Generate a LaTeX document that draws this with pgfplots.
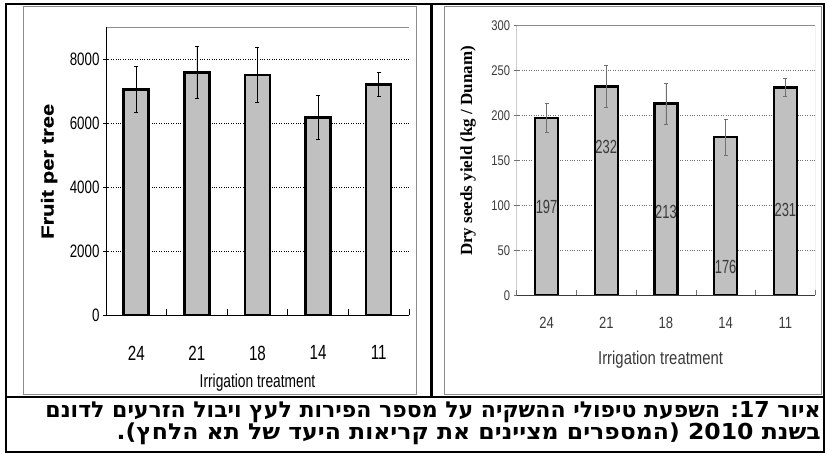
\documentclass[border=0pt]{standalone}
\usepackage{fontspec}
\usepackage{pgfplots}
\usepackage{pgfplotstable}
\pgfplotsset{compat=1.18}
\setmainfont{Liberation Sans}
\newfontfamily\narrowL[FakeStretch=0.74]{Liberation Sans}
\newfontfamily\narrowR[FakeStretch=0.80]{Liberation Sans}
\newfontfamily\labelfont[FakeStretch=0.68]{Liberation Sans}
\newfontface\heavy[FakeStretch=1.25,FakeBold=1]{Liberation Sans Bold}
\newfontfamily\timesb{Liberation Serif}
\newfontfamily\hebfont[Script=Hebrew]{DejaVu Sans}
\newfontfamily\hebwide[Script=Hebrew,FakeStretch=1.07]{DejaVu Sans}
\TeXXeTstate=1

\definecolor{barfill}{HTML}{C0C0C0}
\definecolor{framegray}{HTML}{8C8C8C}
\definecolor{darkgray}{HTML}{3A3A3A}
\definecolor{gridgray}{HTML}{707070}

% Fruit per tree: mean and standard error
\pgfplotstableread{
x y err
0 7060 710
1 7580 810
2 7510 860
3 6190 680
4 7220 365
}\fruit

% Dry seeds yield (kg/dunam): mean and standard error
\pgfplotstableread{
x y err
0 197 16
1 232 23
2 213 23
3 176 20
4 231 10
}\yield

% Data label positions inside the bars
\pgfplotstableread{
x y lab
0 98.5 197
1 165 232
2 93 213
3 32 176
4 95 231
}\yieldlabels

\begin{document}
\begin{tikzpicture}[x=1pt,y=1pt]
\useasboundingbox (0,0) rectangle (825,453);

% table borders
\draw[black, line width=2pt] (6,449) rectangle (824,1);
\draw[black, line width=2pt] (6,56) -- (824,56);
\draw[black, line width=2.5pt] (431.5,449) -- (431.5,56);
% chart frames
\draw[framegray, line width=0.8pt] (23,447) rectangle (416,59);
\draw[framegray, line width=0.8pt] (444,447) rectangle (821,59);

% ---------------- left chart: fruit per tree ----------------
\begin{axis}[
  at={(106pt,137.7pt)}, anchor=south west,
  scale only axis, width=303pt, height=288pt,
  xmin=-0.5, xmax=4.5, ymin=0, ymax=9000,
  xtick={0,...,4}, xticklabels={24,21,18,14,11},
  minor xtick={-0.5,0.5,...,4.5},
  ytick={0,2000,...,8000}, yticklabels={0,2000,4000,6000,8000},
  tick pos=left,
  major x tick style={draw=none},
  minor x tick style={black, line width=0.6pt},
  minor tick length=6pt,
  ytick align=center, major tick length=6pt,
  y tick style={black, line width=0.6pt},
  axis line style={draw=none},
  ymajorgrids, major grid style={black, dotted, line width=0.7pt},
  xticklabel style={font=\narrowL\fontsize{20.5}{20.5}\selectfont, text=black, yshift=-27pt},
  yticklabel style={font=\narrowL\fontsize{18}{18}\selectfont, text=black},
  xlabel={Irrigation treatment},
  xlabel style={at={(axis description cs:0.5,-0.252)}, anchor=base,
    font=\narrowL\fontsize{18.6}{18.6}\selectfont},
  ylabel={Fruit per tree},
  ylabel style={at={(axis description cs:-0.188,0.5)}, anchor=center,
    font=\heavy\fontsize{17.5}{17.5}\selectfont},
]
\addplot[ybar, bar width=25pt, fill=barfill, draw=black, line width=2.6pt,
  error bars/.cd, y dir=both, y explicit,
  error bar style={black, line width=0.7pt},
  error mark options={black, line width=0.7pt, rotate=90, mark size=2pt}]
  table[x=x, y=y, y error=err] {\fruit};
\draw[framegray, line width=0.8pt] (rel axis cs:0,1) -- (rel axis cs:1,1) -- (rel axis cs:1,0);
\draw[black, line width=0.9pt] (rel axis cs:0,1) -- (rel axis cs:0,0) -- (rel axis cs:1,0);
\end{axis}

% ---------------- right chart: dry seeds yield ----------------
\begin{axis}[
  at={(516.7pt,157.7pt)}, anchor=south west,
  scale only axis, width=298.5pt, height=270pt,
  xmin=-0.5, xmax=4.5, ymin=0, ymax=300,
  xtick={0,...,4}, xticklabels={24,21,18,14,11},
  minor xtick={-0.5,0.5,...,4.5},
  ytick={0,50,...,300}, yticklabels={0,50,100,150,200,250,300},
  tick pos=left,
  major x tick style={draw=none},
  minor x tick style={gridgray, line width=0.6pt},
  minor tick length=5pt,
  ytick align=center, major tick length=6pt,
  y tick style={gridgray, line width=0.6pt},
  axis line style={draw=none},
  ymajorgrids, major grid style={gridgray, dotted, line width=0.7pt},
  xticklabel style={font=\narrowR\fontsize{16.3}{16.3}\selectfont, text=darkgray, yshift=-18pt},
  yticklabel style={font=\narrowR\fontsize{14}{14}\selectfont, text=darkgray},
  xlabel={Irrigation treatment},
  xlabel style={at={(axis description cs:0.482,-0.258)}, anchor=base,
    font=\narrowR\fontsize{18.6}{18.6}\selectfont, text=darkgray},
  ylabel={Dry seeds yield (kg / Dunam)},
  ylabel style={at={(axis description cs:-0.163,0.535)}, anchor=center,
    font=\timesb\bfseries\fontsize{17}{17}\selectfont},
]
\addplot[ybar, bar width=23pt, fill=barfill, draw=black, line width=2.4pt,
  error bars/.cd, y dir=both, y explicit,
  error bar style={gridgray, line width=0.7pt},
  error mark options={gridgray, line width=0.7pt, rotate=90, mark size=2pt}]
  table[x=x, y=y, y error=err] {\yield};
\addplot[draw=none, mark=none, nodes near coords, point meta=explicit symbolic,
  every node near coord/.append style={anchor=center, inner sep=0pt,
    font=\labelfont\fontsize{19}{19}\selectfont, text=darkgray}]
  table[x=x, y=y, meta=lab] {\yieldlabels};
\draw[framegray, line width=0.8pt] (rel axis cs:0,1) -- (rel axis cs:1,1) -- (rel axis cs:1,0);
\draw[gridgray, line width=0.8pt] (rel axis cs:0,1) -- (rel axis cs:0,0);
\draw[darkgray, line width=0.8pt] (rel axis cs:0,0) -- (rel axis cs:1,0);
\end{axis}

% caption
\node[anchor=base east, inner sep=0pt, font=\hebfont\bfseries\fontsize{22}{24}\selectfont]
  at (821,36) {\beginR איור 17: השפעת טיפולי ההשקיה על מספר הפירות לעץ ויבול הזרעים לדונם\endR};
\node[anchor=base east, inner sep=0pt, font=\hebwide\bfseries\fontsize{22}{24}\selectfont]
  at (821,14) {\beginR בשנת 2010 (המספרים מציינים את קריאות היעד של תא הלחץ).\endR};
\end{tikzpicture}
\end{document}
